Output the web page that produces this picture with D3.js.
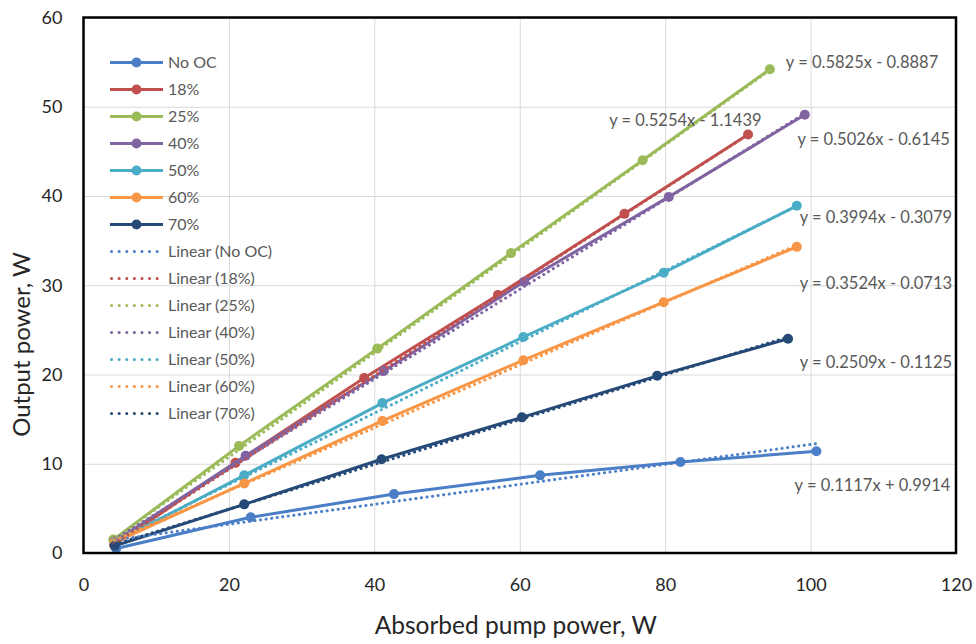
<!DOCTYPE html>
<html>
<head>
<meta charset="utf-8">
<script src="https://cdn.jsdelivr.net/npm/d3@7"></script>
<style>
  body { margin: 0; background: #fff; }
  text { font-family: Lato, "Open Sans", sans-serif; }
  .grid line { stroke: #d9d9d9; stroke-width: 1; }
  .tick text { fill: #262626; font-size: 18px; }
</style>
</head>
<body>
<div id="chart"></div>
<script>
// series names and colours
var seriesNames = ["No OC", "18%", "25%", "40%", "50%", "60%", "70%"];
var seriesColors = ["#4a7ec6", "#c0504d", "#9bbb59", "#8064a2", "#4bacc6", "#f79646", "#264a78"];

// measured points (absorbed pump power, output power)
var xNoOC = [4.5, 23.0, 42.7, 62.8, 82.1, 100.8];
var yNoOC = [0.5, 4.0, 6.6, 8.7, 10.2, 11.4];
var x18 = [4.2, 20.9, 38.6, 57.0, 74.4, 91.4];
var y18 = [0.9, 10.1, 19.6, 28.9, 38.0, 46.9];
var x25 = [4.1, 21.4, 40.4, 58.8, 76.9, 94.4];
var y25 = [1.5, 12.0, 22.9, 33.6, 44.0, 54.2];
var x40 = [4.3, 22.3, 41.3, 60.6, 80.5, 99.2];
var y40 = [1.3, 10.9, 20.4, 30.4, 39.9, 49.1];
var x50 = [4.3, 22.1, 41.1, 60.5, 79.8, 98.1];
var y50 = [1.2, 8.7, 16.8, 24.2, 31.4, 38.9];
var x60 = [4.3, 22.1, 41.1, 60.5, 79.8, 98.1];
var y60 = [1.2, 7.8, 14.8, 21.6, 28.1, 34.3];
var x70 = [4.3, 22.1, 41.0, 60.3, 78.9, 96.9];
var y70 = [0.8, 5.45, 10.5, 15.2, 19.85, 24.0];

// linear trendlines (from the fitted equations)
var slopes = [0.1117, 0.5254, 0.5825, 0.5026, 0.3994, 0.3524, 0.2509];
var intercepts = [0.9914, -1.1439, -0.8887, -0.6145, -0.3079, -0.0713, -0.1125];
var eqLabels = ["y = 0.1117x + 0.9914", "y = 0.5254x - 1.1439", "y = 0.5825x - 0.8887",
                "y = 0.5026x - 0.6145", "y = 0.3994x - 0.3079", "y = 0.3524x - 0.0713",
                "y = 0.2509x - 0.1125"];
// where the equation labels sit, in data units (left edge, middle)
var eqX = [97.8, 72.3, 96.6, 98.2, 98.5, 98.5, 98.5];
var eqY = [7.6, 48.5, 55.0, 46.4, 37.6, 30.2, 21.4];

var xTicks = [0, 20, 40, 60, 80, 100, 120];
var yTicks = [0, 10, 20, 30, 40, 50, 60];

var allX = [xNoOC, x18, x25, x40, x50, x60, x70];
var allY = [yNoOC, y18, y25, y40, y50, y60, y70];

var margin = {top: 17.5, right: 20, bottom: 91, left: 83.5};
var width = 976 - margin.left - margin.right;
var height = 644 - margin.top - margin.bottom;

var x = d3.scaleLinear().domain([0, 120]).range([0, width]);
var y = d3.scaleLinear().domain([0, 60]).range([height, 0]);

var svg = d3.select("#chart")
    .append("svg")
    .attr("width", 976)
    .attr("height", 644)
    .append("g")
    .attr("transform", "translate(" + margin.left + "," + margin.top + ")");

// gridlines
svg.append("g")
    .attr("class", "grid")
    .attr("transform", "translate(0," + height + ")")
    .call(d3.axisBottom(x).tickValues(xTicks).tickSize(-height).tickFormat(""))
    .call(function(g) { g.select(".domain").remove(); });
svg.append("g")
    .attr("class", "grid")
    .call(d3.axisLeft(y).tickValues(yTicks).tickSize(-width).tickFormat(""))
    .call(function(g) { g.select(".domain").remove(); });

// axes labels (no tick marks)
svg.append("g")
    .attr("transform", "translate(0," + height + ")")
    .call(d3.axisBottom(x).tickValues(xTicks).tickSize(0).tickPadding(25))
    .call(function(g) { g.select(".domain").remove(); });
svg.append("g")
    .call(d3.axisLeft(y).tickValues(yTicks).tickSize(0).tickPadding(21))
    .call(function(g) { g.select(".domain").remove(); });

var line = d3.line()
    .x(function(d) { return x(d[0]); })
    .y(function(d) { return y(d[1]); });

// data lines + markers
seriesNames.forEach(function(name, i) {
    var pts = allX[i].map(function(v, j) { return [v, allY[i][j]]; });
    svg.append("path")
        .attr("d", line(pts))
        .attr("fill", "none")
        .attr("stroke", seriesColors[i])
        .attr("stroke-width", 3);
    svg.selectAll(".pt" + i)
        .data(pts)
        .enter().append("circle")
        .attr("cx", function(d) { return x(d[0]); })
        .attr("cy", function(d) { return y(d[1]); })
        .attr("r", 5)
        .attr("fill", seriesColors[i]);
});

// trendlines
seriesNames.forEach(function(name, i) {
    var x0 = d3.min(allX[i]), x1 = d3.max(allX[i]);
    svg.append("path")
        .attr("d", line([[x0, slopes[i] * x0 + intercepts[i]], [x1, slopes[i] * x1 + intercepts[i]]]))
        .attr("fill", "none")
        .attr("stroke", seriesColors[i])
        .attr("stroke-width", 3)
        .attr("stroke-linecap", "round")
        .attr("stroke-dasharray", "0.1,5.5");
});

// equation labels
svg.selectAll(".eq")
    .data(eqLabels)
    .enter().append("text")
    .attr("x", function(d, i) { return x(eqX[i]); })
    .attr("y", function(d, i) { return y(eqY[i]); })
    .attr("dy", "0.35em")
    .style("font-size", "16.5px")
    .style("fill", "#595959")
    .text(function(d) { return d; });

// plot border
svg.append("rect")
    .attr("width", width)
    .attr("height", height)
    .attr("fill", "none")
    .attr("stroke", "#000")
    .attr("stroke-width", 2.5);

// legend
var legend = svg.append("g").attr("transform", "translate(26.5,45)");
var legendItems = seriesNames.concat(seriesNames.map(function(n) { return "Linear (" + n + ")"; }));
legendItems.forEach(function(label, k) {
    var i = k % seriesNames.length;
    var g = legend.append("g").attr("transform", "translate(0," + (k * 27) + ")");
    var ln = g.append("line")
        .attr("x1", 0).attr("x2", 53)
        .attr("stroke", seriesColors[i])
        .attr("stroke-width", 3);
    if (k < seriesNames.length) {
        g.append("circle").attr("cx", 26.5).attr("r", 5).attr("fill", seriesColors[i]);
    } else {
        ln.attr("stroke-linecap", "round").attr("stroke-dasharray", "0.1,7.5")
          .attr("x1", 1.5);
    }
    g.append("text")
        .attr("x", 58)
        .attr("dy", "0.35em")
        .style("font-size", "16px")
        .style("fill", "#595959")
        .text(label);
});

// axis titles
svg.append("text")
    .attr("x", width / 2 - 4)
    .attr("y", height + 81)
    .attr("text-anchor", "middle")
    .style("font-size", "24.5px")
    .style("fill", "#262626")
    .text("Absorbed pump power, W");

svg.append("text")
    .attr("transform", "rotate(-90)")
    .attr("x", -327)
    .attr("y", -54)
    .attr("text-anchor", "middle")
    .style("font-size", "24px")
    .style("fill", "#262626")
    .text("Output power, W");
</script>
</body>
</html>
